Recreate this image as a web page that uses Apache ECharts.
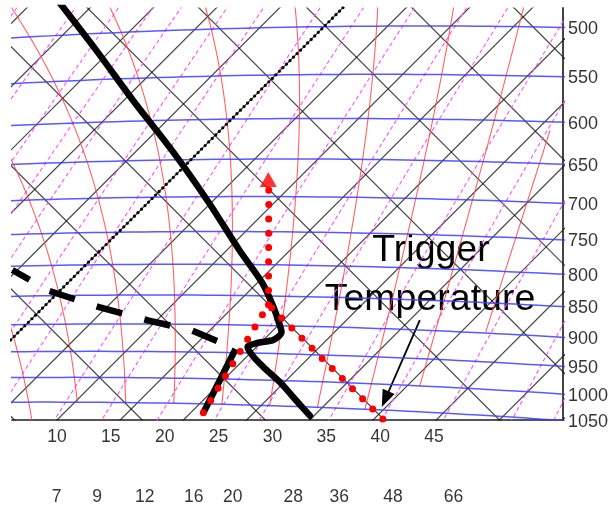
<!DOCTYPE html>
<html>
<head>
<meta charset="utf-8">
<script src="https://cdn.jsdelivr.net/npm/echarts@6/dist/echarts.min.js"></script>
<style>
html,body{margin:0;padding:0;background:#fff;}
#chart{width:609px;height:508px;}
</style>
</head>
<body>
<div id="chart"></div>
<script>
// ---- Sounding (pressure hPa, temperature degC) ----
const tempPressure = [465, 518, 575, 638, 705, 778, 829, 867, 894, 911, 925, 931, 939, 955, 975, 1004, 1037, 1068];
const tempValues   = [-23.1, -16.1, -9.3, -2.2, 4.5, 11.0, 15.4, 18.1, 19.8, 20.8, 20.8, 19.8, 19.3, 20.4, 22.1, 24.7, 27.3, 29.7];
// dew point above the inversion (dashed) and in the moist surface layer
const dewPressureAloft = [929, 911, 894, 871, 842, 806];
const dewValuesAloft   = [16.4, 13.6, 9.4, 4.5, -0.8, -5.4];
const dewPressureLow   = [943, 1068];
const dewValuesLow     = [18.5, 21.0];

// ---- Surface parcel ----
const surfacePressure = 1068;
const triggerTemperature = 35.7;
const surfaceDewPoint = 21.0;
const ascentTop = {t: 8.5, p: 690};
const ascentArrow = {t: 7.7, p: 677};

// ---- Background line sets ----
const isobarLevels = [500, 550, 600, 650, 700, 750, 800, 850, 900, 950, 1000, 1050];
const isothermLevels = [-60, -55, -50, -45, -40, -35, -30, -25, -20, -15, -10, -5, 0, 5, 10, 15, 20, 25, 30, 35, 40, 45, 50, 55, 60, 65];
const isentropeLevels = [0, 10, 20, 30, 40, 50, 60, 70, 80, 90];
const wetBulbLevels = [0, 4, 8, 12, 16, 20, 24, 28, 32, 36, 40];
const wetBulbLowest = [1100, 1100, 1050, 1050, 1050, 1050, 1050, 1050, 1050, 1000, 898];
const wetBulbHighest = [420, 420, 420, 420, 420, 420, 420, 420, 420, 420, 610];
const mixingRatioLevels = [0.1, 0.15, 0.2, 0.3, 0.4, 0.5, 0.6, 0.8, 1, 1.5, 2, 2.5, 3, 4, 5, 7, 9, 12, 16, 20, 28, 36, 48, 66, 80];

// ---- Scale labels under the diagram ----
const temperatureTicks = [10, 15, 20, 25, 30, 35, 40, 45];
const mixingRatioTicks = [7, 9, 12, 16, 20, 28, 36, 48, 66];

// ---- Tephigram geometry ----
const KAPPA = 0.2857;
const SCALE_T = 12.64, OFFSET_T = -3102;       // along isentropes, per K
const SCALE_S = 3548.8, OFFSET_S = -20314.3;   // along isotherms, per ln(theta)
const GRID = {left: 12, top: 8, width: 551, height: 412};

function thetaOf(tc, p) { return (tc + 273.15) * Math.pow(1000 / p, KAPPA); }
function toXY(tk, theta) {
  const u = SCALE_T * tk + OFFSET_T;
  const w = SCALE_S * Math.log(theta) + OFFSET_S;
  return [(u + w) / 2 - GRID.left, (u - w) / 2 - GRID.top];
}
function project(tc, p) { return toXY(tc + 273.15, thetaOf(tc, p)); }

// ---- Moisture ----
function esat(tc) { return 6.112 * Math.exp(17.67 * tc / (tc + 243.5)); }
function rsat(tc, p) { const e = esat(tc); return 0.622 * e / (p - e); }
function dewFromMixing(rg, p) {
  const e = rg * p / (622 + rg);
  const l = Math.log(e / 6.112);
  return 243.5 * l / (17.67 - l);
}
function moistLapse(tk, p) {
  const tc = tk - 273.15;
  const rs = rsat(tc, p);
  const Rd = 287.04, cp = 1005.7, eps = 0.622;
  const Lv = 2.501e6 - 2370 * tc;
  return (Rd * tk + Lv * rs) / (cp + Lv * Lv * rs * eps / (Rd * tk * tk)) / p;
}
function moistAdiabat(tc0, p0, p1, dp) {
  const pts = [[tc0, p0]];
  let t = tc0 + 273.15, p = p0;
  const dir = p1 < p0 ? -1 : 1;
  while ((p1 - p) * dir > 1e-6) {
    const h = Math.min(dp, Math.abs(p1 - p)) * dir;
    const k1 = moistLapse(t, p);
    const k2 = moistLapse(t + k1 * h / 2, p + h / 2);
    t += k2 * h; p += h;
    pts.push([t - 273.15, p]);
  }
  return pts;
}

// ---- Build background curves ----
const series = [];
function addLine(data, style, z) {
  series.push({type: 'line', data: data, symbol: 'none', silent: true, clip: true,
               lineStyle: style, z: z || 2, animation: false});
}

const gridBlack = {color: 'rgba(20,20,20,0.8)', width: 1.2};
isothermLevels.forEach(t => addLine([project(t, 250), project(t, 1400)], gridBlack, 2));
isentropeLevels.forEach(th => {
  const thetaK = th + 273.15;
  addLine([toXY(273.15 - 90, thetaK), toXY(273.15 + 90, thetaK)], gridBlack, 2);
});

const mixingStyle = {color: '#ff4dff', width: 1.1, type: [4, 3]};
mixingRatioLevels.forEach(r => {
  const pts = [];
  for (let p = 400; p <= 1150; p += 25) pts.push(project(dewFromMixing(r, p), p));
  addLine(pts, mixingStyle, 3);
});

const wetStyle = {color: 'rgba(255,70,70,0.85)', width: 1.1};
wetBulbLevels.forEach((tw, i) => {
  const full = moistAdiabat(tw, 1000, 420, 2);
  const down = moistAdiabat(tw, 1000, 1100, 2);
  const pts = down.slice(1).reverse().concat(full)
    .filter(d => d[1] <= wetBulbLowest[i] + 1e-6 && d[1] >= wetBulbHighest[i] - 1e-6)
    .map(d => project(d[0], d[1]));
  addLine(pts, wetStyle, 3);
});

const isobarStyle = {color: 'rgba(60,60,255,0.85)', width: 1.5};
isobarLevels.forEach(p => {
  const pts = [];
  for (let t = -70; t <= 70; t += 1) pts.push(project(t, p));
  addLine(pts, isobarStyle, 4);
});

// 0 degC isotherm, dotted
addLine([project(0, 250), project(0, 1400)], {color: '#000', width: 3.2, type: [0, 5], cap: 'round'}, 6);

// ---- Sounding ----
addLine(tempPressure.map((p, i) => project(tempValues[i], p)),
        {color: '#000', width: 6.5, cap: 'round', join: 'round'}, 8);
series[series.length - 1].smooth = 0.3;

addLine(dewPressureAloft.map((p, i) => project(dewValuesAloft[i], p)),
        {color: '#000', width: 6.5, type: [26.5, 23], cap: 'butt'}, 8);
addLine(dewPressureLow.map((p, i) => project(dewValuesLow[i], p)),
        {color: '#000', width: 6.5, cap: 'butt'}, 8);

// ---- Parcel path: dry ascent to the condensation level, then saturated ----
const surfaceTheta = thetaOf(triggerTemperature, surfacePressure);
const surfaceMixing = 1000 * rsat(surfaceDewPoint, surfacePressure);
let lo = 500, hi = surfacePressure;
for (let i = 0; i < 60; i++) {
  const mid = (lo + hi) / 2;
  const tDry = surfaceTheta * Math.pow(mid / 1000, KAPPA) - 273.15;
  if (tDry > dewFromMixing(surfaceMixing, mid)) hi = mid; else lo = mid;
}
const lclPressure = (lo + hi) / 2;
const lclTemperature = surfaceTheta * Math.pow(lclPressure / 1000, KAPPA) - 273.15;

const dotStyle = {color: '#ff0000', width: 7, type: [0, 14.3], cap: 'round'};
const dryPath = [], wetPath = [];
for (let k = 0; k <= 20; k++) {
  const p = surfacePressure + (lclPressure - surfacePressure) * k / 20;
  dryPath.push(project(surfaceTheta * Math.pow(p / 1000, KAPPA) - 273.15, p));
  wetPath.push(project(dewFromMixing(surfaceMixing, p), p));
}
addLine(dryPath, dotStyle, 9);
addLine(wetPath, dotStyle, 9);
addLine([project(lclTemperature, lclPressure), project(ascentTop.t, ascentTop.p)], dotStyle, 9);
series.push({type: 'scatter', data: [project(ascentArrow.t, ascentArrow.p)], symbol: 'triangle',
             symbolSize: [17, 15], itemStyle: {color: '#ff0000'}, z: 10, silent: true, animation: false});

// ---- Labels ----
const labelFont = {fontFamily: 'Liberation Sans, Arial, Helvetica, sans-serif', fontSize: 18, color: '#000'};
const bottomFont = {fontFamily: 'Liberation Sans, Arial, Helvetica, sans-serif', fontSize: 17.5, color: '#000'};
function rightEdgeY(p) {
  let a = -90, b = 90;
  for (let i = 0; i < 60; i++) {
    const m = (a + b) / 2;
    if (project(m, p)[0] < GRID.width) a = m; else b = m;
  }
  return project((a + b) / 2, p)[1];
}
series.push({type: 'scatter', clip: false, silent: true, animation: false, symbolSize: 0,
  data: isobarLevels.map(p => [GRID.width, rightEdgeY(p), p]),
  label: Object.assign({show: true, position: 'right', distance: 5, offset: [0, 1.5],
    formatter: d => String(d.value[2])}, labelFont)});

series.push({type: 'scatter', clip: false, silent: true, animation: false, symbolSize: 0,
  xAxisIndex: 1,
  data: temperatureTicks.map(t => [t, 429, t]),
  label: Object.assign({show: true, position: 'inside', formatter: d => String(d.value[2])}, bottomFont)});

series.push({type: 'scatter', clip: false, silent: true, animation: false, symbolSize: 0,
  xAxisIndex: 1,
  data: mixingRatioTicks.map(r => [dewFromMixing(r, 1100), 489, r]),
  label: Object.assign({show: true, position: 'inside', formatter: d => String(d.value[2])}, bottomFont)});

const chart = echarts.init(document.getElementById('chart'));
chart.setOption({
  animation: false,
  backgroundColor: '#fff',
  grid: {left: GRID.left, top: GRID.top, width: GRID.width, height: GRID.height, containLabel: false},
  xAxis: [
    {type: 'value', min: 0, max: GRID.width, position: 'bottom',
     axisLine: {show: true, onZero: false, lineStyle: {color: '#555', width: 2}},
     axisTick: {show: false}, axisLabel: {show: false}, splitLine: {show: false}},
    {type: 'value', min: 5.822, max: 56.978, show: false}
  ],
  yAxis: [
    {type: 'value', min: 0, max: GRID.height, inverse: true, position: 'right',
     axisLine: {show: true, onZero: false, lineStyle: {color: '#444', width: 2}},
     axisTick: {show: false}, axisLabel: {show: false}, splitLine: {show: false}}
  ],
  series: series
});

// Annotation pointing at the trigger temperature
const tip = chart.convertToPixel({gridIndex: 0}, project(triggerTemperature, surfacePressure));
const tipX = tip[0] - 1, tipY = tip[1] - 12;
const startX = tipX + 38, startY = tipY - 87;
const len = Math.hypot(tipX - startX, tipY - startY);
const dx = (tipX - startX) / len, dy = (tipY - startY) / len;
const bx = tipX - dx * 17, by = tipY - dy * 17;
chart.setOption({
  graphic: [
    {type: 'text', style: {text: 'Trigger', x: 431, y: 251, textAlign: 'center', textVerticalAlign: 'middle',
      font: '37.5px "Liberation Sans", Arial, Helvetica, sans-serif', fill: '#000'}},
    {type: 'text', style: {text: 'Temperature', x: 430, y: 300, textAlign: 'center', textVerticalAlign: 'middle',
      font: '37.5px "Liberation Sans", Arial, Helvetica, sans-serif', fill: '#000'}},
    {type: 'line', shape: {x1: startX, y1: startY, x2: bx + dx * 2, y2: by + dy * 2}, style: {stroke: '#000', lineWidth: 1.8}},
    {type: 'polygon', shape: {points: [[tipX, tipY], [bx + dy * 6.5, by - dx * 6.5], [bx - dy * 6.5, by + dx * 6.5]]},
      style: {fill: '#000'}}
  ]
});
</script>
</body>
</html>
